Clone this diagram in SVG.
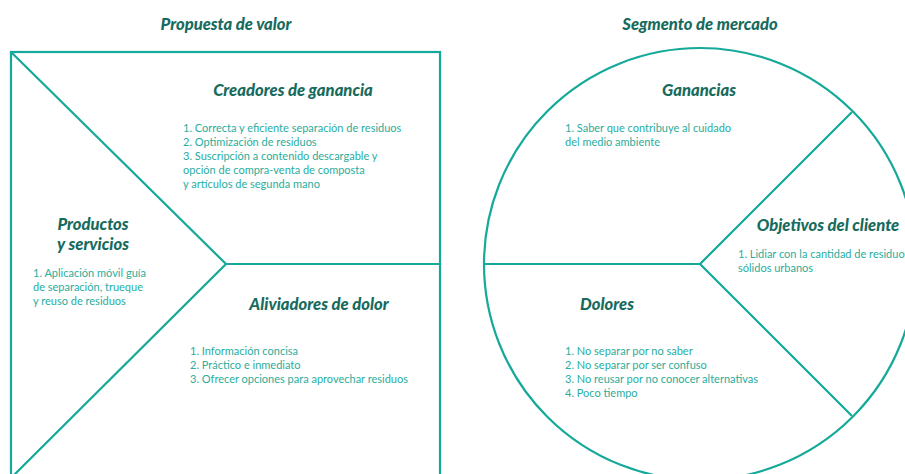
<svg xmlns="http://www.w3.org/2000/svg" width="905" height="474" viewBox="0 0 905 474">
<style>
.ln{fill:none;stroke:#14a999;stroke-width:2.2}
.h{font-family:Lato,"Open Sans",sans-serif;font-weight:900;font-style:italic;font-size:16.6px;fill:#176b5e;text-anchor:middle}
.b{font-family:Lato,"Open Sans",sans-serif;font-size:11px;fill:#2aad9d}
</style>
<rect width="905" height="474" fill="#ffffff"/>
<g id="titles">
<text class="h" x="226" y="30">Propuesta de valor</text>
<text class="h" x="700" y="30">Segmento de mercado</text>
</g>
<g id="connectors">
<rect class="ln" x="11" y="52" width="429" height="440"/>
<polyline class="ln" points="11,52 226,264 11,478"/>
<line class="ln" x1="226" y1="264" x2="440" y2="264"/>
<circle class="ln" cx="700" cy="264" r="216"/>
<line class="ln" x1="484" y1="264" x2="700" y2="264"/>
<polyline class="ln" points="852,112 700,264 852,416"/>
</g>
<g id="creadores">
<text class="h" x="293" y="96">Creadores de ganancia</text>
<text class="b" x="183" y="132">1. Correcta y eficiente separación de residuos</text>
<text class="b" x="183" y="146">2. Optimización de residuos</text>
<text class="b" x="183" y="160">3. Suscripción a contenido descargable y</text>
<text class="b" x="183" y="174">opción de compra-venta de composta</text>
<text class="b" x="183" y="188">y artículos de segunda mano</text>
</g>
<g id="productos">
<text class="h" x="93" y="230">Productos</text>
<text class="h" x="93" y="250">y servicios</text>
<text class="b" x="33" y="277">1. Aplicación móvil guía</text>
<text class="b" x="33" y="291">de separación, trueque</text>
<text class="b" x="33" y="305">y reuso de residuos</text>
</g>
<g id="aliviadores">
<text class="h" x="319" y="310">Aliviadores de dolor</text>
<text class="b" x="190" y="355">1. Información concisa</text>
<text class="b" x="190" y="369">2. Práctico e inmediato</text>
<text class="b" x="190" y="383">3. Ofrecer opciones para aprovechar residuos</text>
</g>
<g id="ganancias">
<text class="h" x="699" y="96">Ganancias</text>
<text class="b" x="565" y="132">1. Saber que contribuye al cuidado</text>
<text class="b" x="565" y="146">del medio ambiente</text>
</g>
<g id="objetivos">
<text class="h" x="828" y="231">Objetivos del cliente</text>
<text class="b" x="738" y="258">1. Lidiar con la cantidad de residuos</text>
<text class="b" x="738" y="272">sólidos urbanos</text>
</g>
<g id="dolores">
<text class="h" x="607" y="310">Dolores</text>
<text class="b" x="565" y="355">1. No separar por no saber</text>
<text class="b" x="565" y="369">2. No separar por ser confuso</text>
<text class="b" x="565" y="383">3. No reusar por no conocer alternativas</text>
<text class="b" x="565" y="397">4. Poco tiempo</text>
</g>
</svg>
